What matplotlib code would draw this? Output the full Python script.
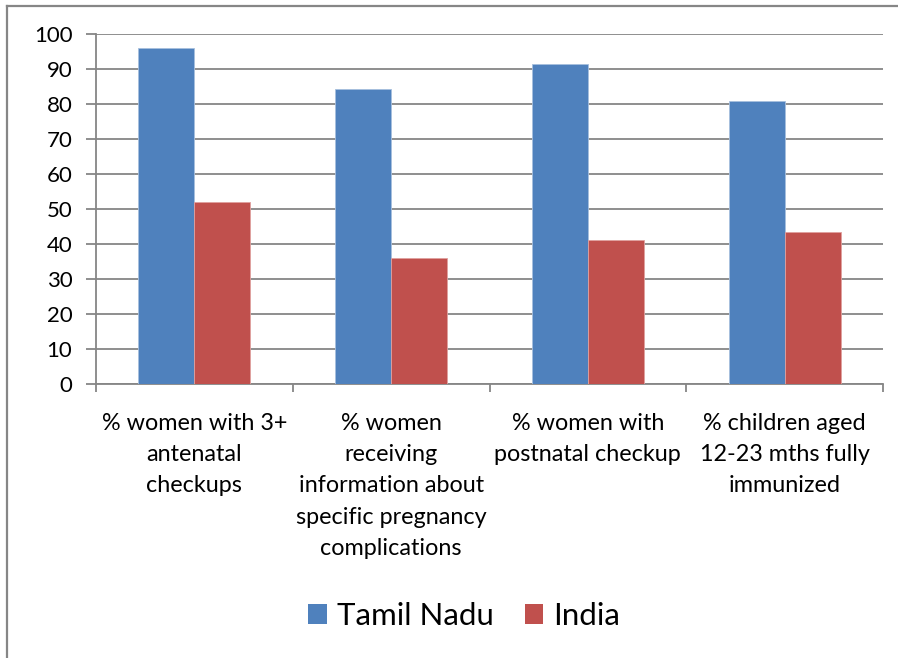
import matplotlib
matplotlib.use("Agg")
import matplotlib.pyplot as plt
from matplotlib.patches import Patch
from matplotlib.lines import Line2D

categories = ["% women with 3+\nantenatal\ncheckups",
              "% women\nreceiving\ninformation about\nspecific pregnancy\ncomplications",
              "% women with\npostnatal checkup",
              "% children aged\n12-23 mths fully\nimmunized"]
series_names = ["Tamil Nadu", "India"]
tamil_nadu = [96.0, 84.4, 91.3, 80.9]
india = [52.0, 36.0, 41.1, 43.4]
yticks = [0, 10, 20, 30, 40, 50, 60, 70, 80, 90, 100]

plt.rcParams['font.family'] = ['Lato', 'DejaVu Sans']

W, H = 898, 658
fig = plt.figure(figsize=(W / 100, H / 100), dpi=100)
ax = fig.add_axes([96 / W, 1 - 384 / H, (883 - 96) / W, (384 - 34) / H])

grid_c = "#868686"
blue = "#4F81BD"
red = "#C0504D"
bw = 0.284
x = list(range(len(categories)))
ax.bar([i - bw for i in x], tamil_nadu, width=bw, align='edge', color=blue,
       edgecolor="#A7C0DE", linewidth=0.6, zorder=3)
ax.bar(x, india, width=bw, align='edge', color=red,
       edgecolor="#E0A09E", linewidth=0.6, zorder=3)

ax.set_xlim(-0.5, len(categories) - 0.5)
ax.set_ylim(0, 100)
ax.set_yticks(yticks)
ax.set_yticklabels([str(v) for v in yticks], fontsize=16)
ax.yaxis.grid(True, color=grid_c, linewidth=1.3, zorder=0)
ax.set_axisbelow(True)
for s in ["top", "right"]:
    ax.spines[s].set_visible(False)
for s in ["left", "bottom"]:
    ax.spines[s].set_color(grid_c)
    ax.spines[s].set_linewidth(1.3)
ax.tick_params(axis='y', length=7, width=1.3, color=grid_c, pad=10)

# category boundary ticks
ax.set_xticks([i - 0.5 for i in range(len(categories) + 1)], minor=False)
ax.set_xticklabels([])
ax.tick_params(axis='x', length=6, width=1.3, color=grid_c)
for i, c in enumerate(categories):
    ax.text(i, -8.3, c, ha='center', va='top', fontsize=16.8,
            linespacing=1.6, transform=ax.transData)

# outer frame
fig.add_artist(Line2D([7 / W, 7 / W], [0, 1 - 6 / H], transform=fig.transFigure,
                      color=grid_c, linewidth=1.6))
fig.add_artist(Line2D([7 / W, 1], [1 - 6 / H, 1 - 6 / H], transform=fig.transFigure,
                      color=grid_c, linewidth=1.6))

handles = [Patch(facecolor=blue, edgecolor='none'), Patch(facecolor=red, edgecolor='none')]
fig.legend(handles, series_names, loc='center', bbox_to_anchor=(464 / W, 1 - 616 / H),
           ncol=2, frameon=False, fontsize=22.5, handlelength=0.6, handleheight=0.6,
           handletextpad=0.3, columnspacing=1.0)

fig.savefig("out.png", dpi=100)
